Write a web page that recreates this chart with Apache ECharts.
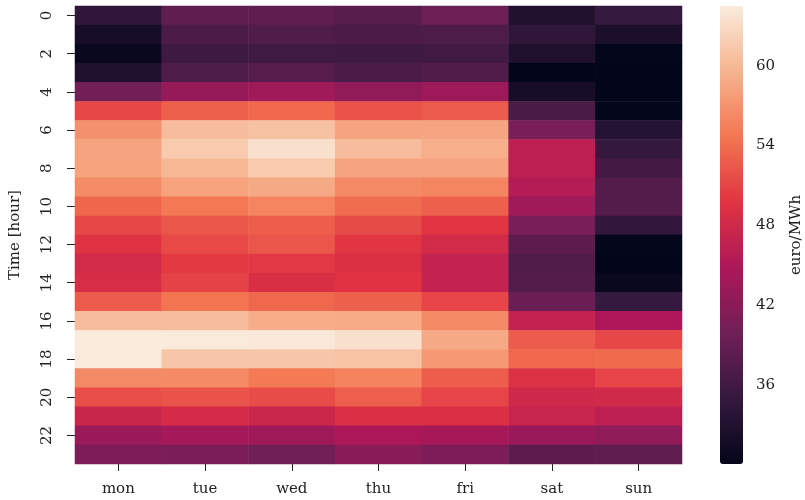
<!DOCTYPE html>
<html>
<head>
<meta charset="utf-8">
<script src="https://cdn.jsdelivr.net/npm/echarts@6/dist/echarts.min.js"></script>
<style>
  html, body { margin: 0; padding: 0; background: #fff; }
  #chart { width: 805px; height: 500px; }
</style>
</head>
<body>
<div id="chart"></div>
<script>
// Average day-ahead price by weekday and hour of day (euro/MWh)
const days = ['mon', 'tue', 'wed', 'thu', 'fri', 'sat', 'sun'];
const hours = Array.from({ length: 24 }, (_, i) => String(i));
const colorbarTicks = [36, 42, 48, 54, 60];

const mon = [34.5, 32.0, 30.8, 32.8, 40.1, 51.3, 56.7, 58.2, 58.1, 56.4, 53.5, 51.3, 49.5, 48.3, 48.8, 52.7, 60.3, 64.48, 64.4, 56.2, 51.8, 47.5, 43.4, 40.9];
const tue = [38.5, 37.0, 35.7, 37.1, 43.0, 53.0, 60.3, 61.6, 59.9, 58.1, 54.9, 52.3, 51.4, 50.2, 50.8, 54.5, 60.3, 64.4, 61.2, 56.3, 52.1, 48.5, 44.2, 40.8];
const wed = [38.5, 37.2, 35.8, 37.7, 43.8, 53.7, 60.8, 63.5, 61.5, 58.7, 55.8, 52.8, 52.3, 50.1, 49.0, 53.6, 59.0, 64.3, 61.1, 55.0, 51.6, 47.6, 43.7, 39.9];
const thu = [38.0, 37.0, 35.7, 37.0, 42.5, 52.0, 58.3, 60.3, 58.2, 56.2, 53.9, 51.5, 49.9, 49.2, 49.6, 53.1, 58.8, 63.5, 60.9, 55.7, 52.9, 49.1, 44.7, 41.8];
const fri = [39.5, 37.1, 35.9, 37.3, 43.6, 52.6, 58.4, 59.2, 58.2, 55.8, 53.0, 49.8, 48.3, 46.9, 47.0, 51.0, 56.2, 58.7, 57.4, 52.8, 51.0, 49.1, 44.3, 40.9];
const sat = [33.0, 34.5, 32.8, 30.07, 32.0, 36.7, 40.7, 46.3, 46.3, 45.6, 43.8, 40.7, 38.2, 37.3, 37.6, 39.4, 47.0, 52.7, 53.6, 49.3, 47.9, 47.3, 43.3, 38.2];
const sun = [35.0, 32.5, 30.2, 30.1, 30.1, 30.2, 33.3, 34.9, 36.2, 37.5, 37.5, 34.6, 30.2, 30.1, 30.8, 35.1, 44.8, 51.3, 53.8, 51.0, 48.1, 46.3, 42.4, 38.3];

const columns = [mon, tue, wed, thu, fri, sat, sun];
const cells = [];
columns.forEach((col, x) => col.forEach((v, y) => cells.push([x, y, v])));
const allValues = cells.map(c => c[2]);
const vmin = Math.min(...allValues);
const vmax = Math.max(...allValues);

// "rocket" colour ramp, evenly spaced stops
const rocket = ['#03051a', '#35193e', '#701f57', '#ad1759', '#e13342', '#f37651', '#f6b48f', '#faebdd'];

const FONT = 'DejaVu Serif';
const TXT = '#222222';

const chart = echarts.init(document.getElementById('chart'), null, { renderer: 'canvas' });
chart.setOption({
  animation: false,
  backgroundColor: '#ffffff',
  grid: [
    { left: 70, right: 123, top: 6, bottom: 36 },
    { left: 720, width: 23, top: 6, bottom: 36 }
  ],
  xAxis: [
    {
      type: 'category', data: days, gridIndex: 0,
      axisLine: { show: false },
      axisTick: { show: true, alignWithLabel: true, length: 7, lineStyle: { color: TXT, width: 1 } },
      axisLabel: { color: TXT, fontFamily: FONT, fontSize: 15, margin: 18 },
      splitLine: { show: false }
    },
    { type: 'value', gridIndex: 1, show: false, min: 0, max: 1 }
  ],
  yAxis: [
    {
      type: 'category', data: hours, inverse: true, gridIndex: 0,
      name: 'Time [hour]', nameLocation: 'middle', nameGap: 52, nameRotate: 90,
      nameTextStyle: { color: TXT, fontFamily: FONT, fontSize: 15 },
      axisLine: { show: false },
      axisTick: { show: true, alignWithLabel: true, interval: 1, length: 8, lineStyle: { color: TXT, width: 1 } },
      axisLabel: { interval: 1, rotate: 90, color: TXT, fontFamily: FONT, fontSize: 15, margin: 20 },
      splitLine: { show: false }
    },
    {
      type: 'value', gridIndex: 1, position: 'right', min: vmin, max: vmax,
      name: 'euro/MWh', nameLocation: 'middle', nameGap: 50, nameRotate: 90,
      nameTextStyle: { color: TXT, fontFamily: FONT, fontSize: 15 },
      axisLine: { show: false },
      axisTick: { show: true, length: 8, customValues: colorbarTicks, lineStyle: { color: TXT, width: 1 } },
      axisLabel: { customValues: colorbarTicks, color: TXT, fontFamily: FONT, fontSize: 15, margin: 17 },
      splitLine: { show: false }
    }
  ],
  visualMap: {
    type: 'continuous', seriesIndex: 0, min: vmin, max: vmax,
    calculable: false, realtime: false, hoverLink: false,
    orient: 'vertical', left: 720, top: 6, padding: 0,
    itemWidth: 23, itemHeight: 458, text: ['', ''],
    inRange: { color: rocket }
  },
  series: [
    {
      type: 'heatmap', xAxisIndex: 0, yAxisIndex: 0, data: cells,
      itemStyle: { borderWidth: 0 },
      emphasis: { disabled: true }
    },
    { type: 'scatter', xAxisIndex: 1, yAxisIndex: 1, data: [], silent: true }
  ]
});
</script>
</body>
</html>
